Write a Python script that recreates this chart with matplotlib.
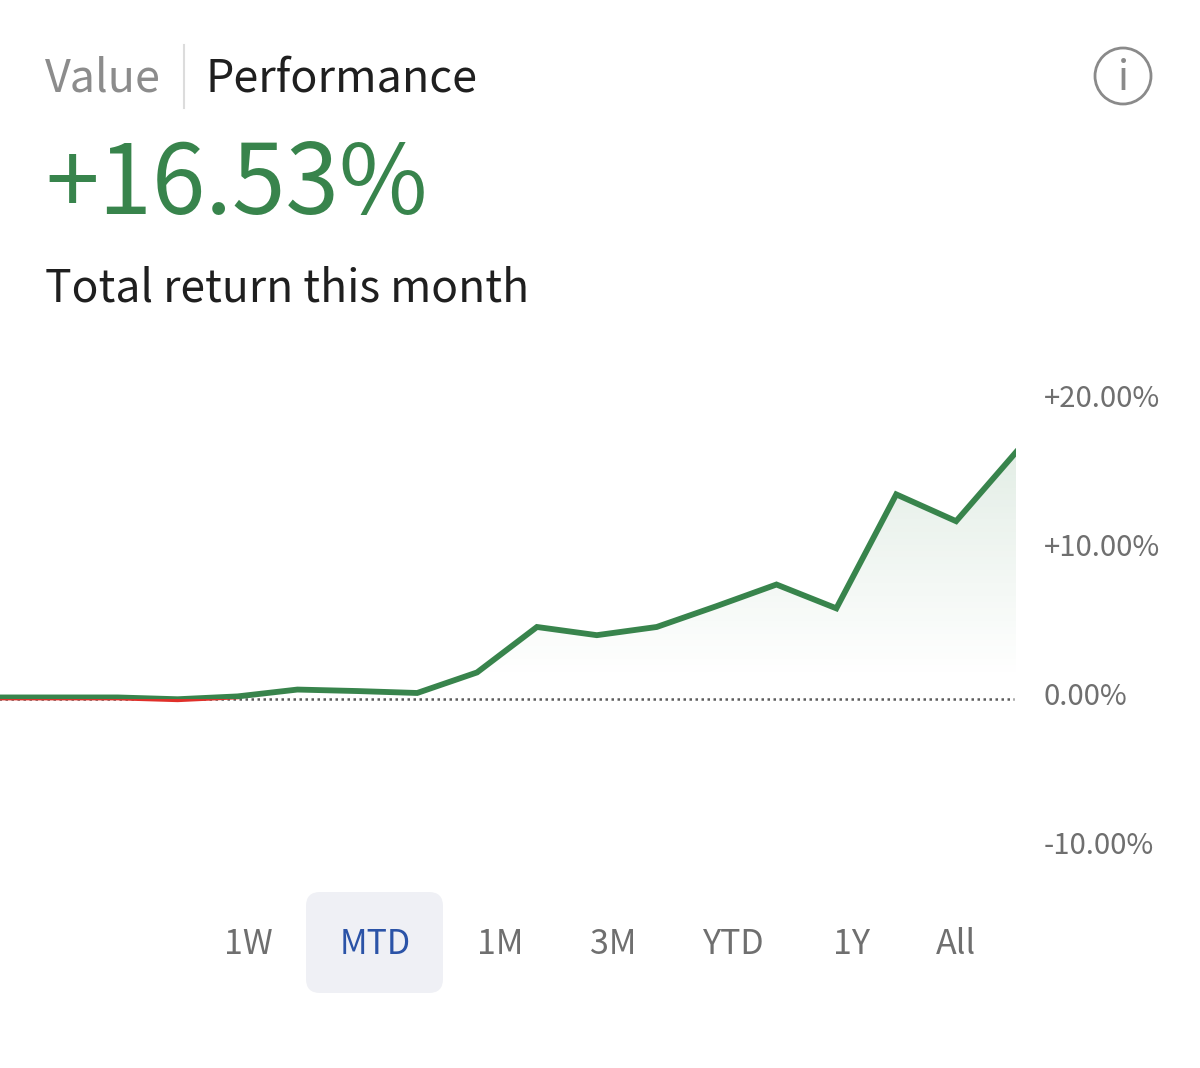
import matplotlib
matplotlib.use('Agg')
import matplotlib.pyplot as plt
from matplotlib.patches import FancyBboxPatch, Circle, Rectangle
from matplotlib.transforms import ScaledTranslation
import numpy as np

plt.rcParams['font.family'] = ['Noto Sans CJK SC', 'DejaVu Sans']

W, H = 1200, 1068

# daily total return, in percent
days = list(range(18))
returns = [0.07, 0.07, 0.07, -0.05, 0.14, 0.6, 0.5, 0.37, 1.75, 4.8, 4.25, 4.8, 6.2, 7.65, 6.05, 13.7, 11.9, 16.53]

y_ticks = [20, 10, 0, -10]
y_labels = ['+20.00%', '+10.00%', '0.00%', '-10.00%']
ranges = ['1W', 'MTD', '1M', '3M', 'YTD', '1Y', 'All']
range_x = [248, 375, 500, 613, 734, 851, 956]

GREEN = '#38844c'
RED = '#e0302a'
GREY = '#6f6f6f'

fig = plt.figure(figsize=(W / 100, H / 100), dpi=100, facecolor='white')

# header and buttons are placed in pixels on a full-figure axes
bg = fig.add_axes([0, 0, 1, 1])
bg.set_xlim(0, W)
bg.set_ylim(H, 0)
bg.axis('off')

bg.text(45, 79, 'Value', fontsize=32.3, color='#8c8c8c', va='center')
bg.plot([184, 184], [45, 108], color='#dcdcdc', lw=1.5)
bg.text(205, 79, 'Performance', fontsize=32.3, color='#1f1f1f', va='center')
bg.text(45, 186, '+16.53%', fontsize=69.3, color=GREEN, va='center')
bg.text(45, 288, 'Total return this month', fontsize=32, color='#1f1f1f', va='center')

bg.add_patch(Circle((1123, 76), 28, fill=False, ec='#8a8a8a', lw=2))
bg.text(1123, 79, 'i', fontsize=29, color='#8a8a8a', ha='center', va='center')

bg.add_patch(FancyBboxPatch((318, 904), 113, 77, boxstyle='round,pad=12,rounding_size=14',
                            fc='#eff0f5', ec='none'))
for name, x in zip(ranges, range_x):
    col = '#2b53a7' if name == 'MTD' else GREY
    bg.text(x, 945, name, fontsize=24.5, color=col, ha='center', va='center')

# chart: 0% sits at y=698.5 px, 14.9 px per percent
x0, x1 = -2, 1016
ytop, ybot = 400.5, 847.5
ax = fig.add_axes([x0 / W, 1 - ybot / H, (x1 - x0) / W, (ybot - ytop) / H])
ax.patch.set_alpha(0)
ax.set_xlim(days[0], days[-1])
ax.set_ylim(-10, 20)
for s in ax.spines.values():
    s.set_visible(False)
ax.set_xticks([])
ax.yaxis.tick_right()
ax.set_yticks(y_ticks)
ax.set_yticklabels(y_labels, fontsize=21, color=GREY)
ax.tick_params(axis='y', length=0, pad=20)
shift = ScaledTranslation(0, 5 / 100, fig.dpi_scale_trans)
for lab in ax.get_yticklabels():
    lab.set_transform(lab.get_transform() + shift)

ax.plot([days[0], 16.97], [0, 0], color='#5c5c5c', lw=1.8, dashes=(1, 1.4), zorder=1)

# fill under the line, fading out toward the zero line
poly = ax.fill_between(days, returns, 0, color='none')
grad = np.zeros((256, 1, 4))
grad[:, :, 0] = 0x38 / 255
grad[:, :, 1] = 0x84 / 255
grad[:, :, 2] = 0x4c / 255
grad[:, 0, 3] = np.clip(np.linspace(0.14, -0.012, 256), 0, 1)
im = ax.imshow(grad, extent=(days[0], days[-1], 0, max(returns)), origin='upper',
               aspect='auto', zorder=1.5)
im.set_clip_path(poly.get_paths()[0], transform=ax.transData)

# same line twice: green above zero, red below
up, = ax.plot(days, returns, color=GREEN, lw=4.2, zorder=3, solid_joinstyle='miter')
up.set_clip_path(Rectangle((days[0], 0), days[-1], 20, transform=ax.transData))
down, = ax.plot(days, returns, color=RED, lw=4.2, zorder=3, solid_joinstyle='miter')
down.set_clip_path(Rectangle((days[0], -10), days[-1], 10, transform=ax.transData))

ax.set_xlim(days[0], days[-1])
ax.set_ylim(-10, 20)

fig.savefig('out.png', dpi=100)
